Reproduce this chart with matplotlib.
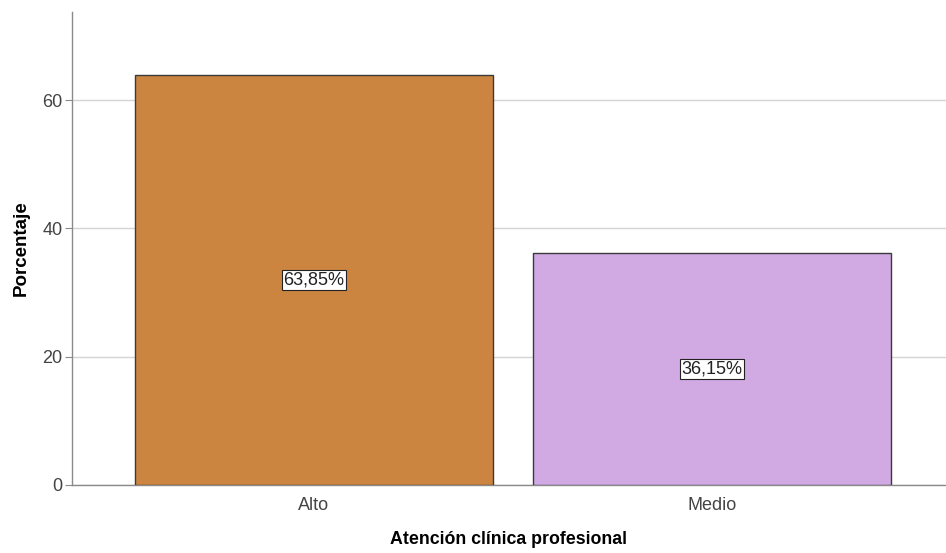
import numpy as np
import matplotlib.pyplot as plt

plt.rcParams['font.family'] = ['Liberation Sans', 'DejaVu Sans']

categorias = ['Alto', 'Medio']
porcentajes = [63.85, 36.15]
etiquetas = ['63,85%', '36,15%']
colores = ['#cc8540', '#d1a9e3']

fig = plt.figure(figsize=(9.46, 5.53), dpi=100)
ax = fig.add_axes([0.0761, 0.123, 0.9239, 0.855])

x = np.arange(len(categorias))
ax.bar(x, porcentajes, width=0.9, color=colores, edgecolor='#3a3a3a', linewidth=1.0, zorder=3)

# etiquetas de valor en el centro de cada barra
for xi, v, t in zip(x, porcentajes, etiquetas):
    ax.text(xi, v / 2, t, ha='center', va='center', fontsize=13, color='#222222', zorder=4,
            bbox=dict(boxstyle='square,pad=0.1', facecolor='white', edgecolor='#222222', linewidth=0.8))

ax.set_xlim(-0.608, 1.588)
ax.set_ylim(0, 73.7)
ax.set_yticks([0, 20, 40, 60])
ax.set_xticks(x)
ax.set_xticklabels(categorias)
ax.yaxis.grid(True, color='#d4d4d4', linewidth=1.0, zorder=0)

for s in ['top', 'right']:
    ax.spines[s].set_visible(False)
for s in ['left', 'bottom']:
    ax.spines[s].set_color('#8a8a8a')
    ax.spines[s].set_linewidth(1.0)

ax.tick_params(axis='both', colors='#8a8a8a', labelcolor='#444444', labelsize=13, length=5, pad=2)
ax.tick_params(axis='x', length=0, pad=9)

ax.set_xlabel('Atención clínica profesional', fontsize=12.8, fontweight='bold', labelpad=12)
ax.set_ylabel('Porcentaje', fontsize=13.5, fontweight='bold', labelpad=9)

fig.savefig('out.png', dpi=100)
